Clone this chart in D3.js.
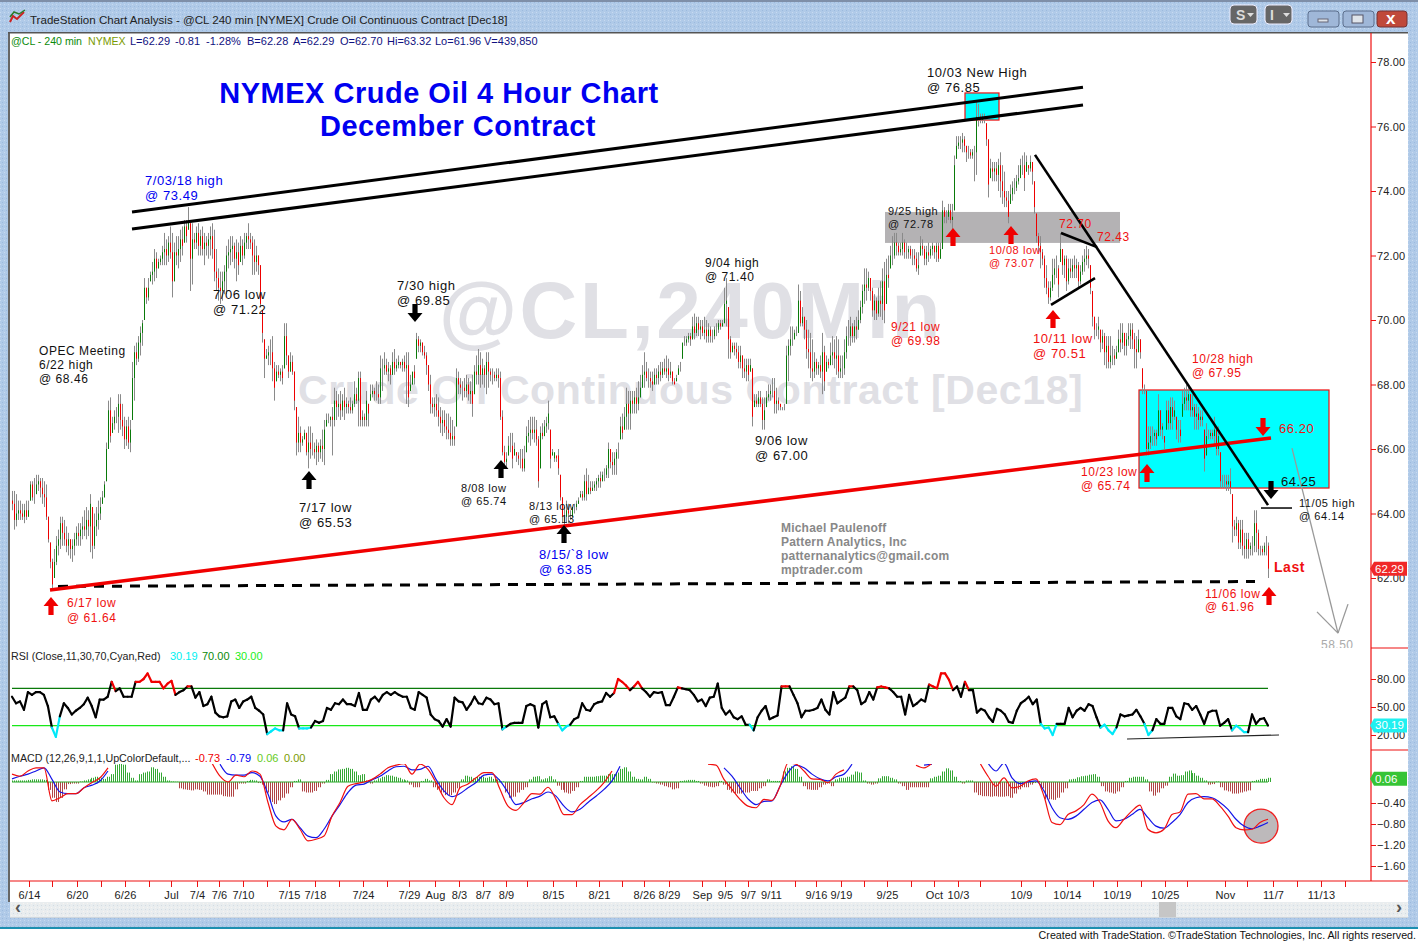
<!DOCTYPE html>
<html><head><meta charset="utf-8"><title>NYMEX Crude Oil 4 Hour Chart</title>
<script src="https://cdn.jsdelivr.net/npm/d3@7/dist/d3.min.js"></script>
<style>html,body{margin:0;padding:0;background:#fff;overflow:hidden}svg{display:block}text{font-family:"Liberation Sans",Arial,sans-serif}</style>
</head><body><svg id="c" width="1418" height="941"></svg>
<script>
const barHigh=[
64.7,64.7,64.6,64.4,64.4,64.3,64.3,64.4,64.4,65.0,
65.0,65.1,65.2,65.2,65.1,65.1,65.0,64.9,63.9,63.1,
62.6,62.9,63.3,63.5,63.9,63.9,63.8,63.6,63.4,63.2,
63.2,63.4,63.6,63.7,63.7,63.9,64.1,64.2,64.1,64.6,
64.2,64.0,64.2,64.4,64.5,64.7,65.0,66.2,67.5,67.6,
67.0,67.2,67.3,67.7,67.7,67.4,67.0,66.9,67.0,66.9,
68.7,69.2,69.3,69.5,69.8,70.0,71.3,71.0,71.3,71.5,
71.8,72.2,72.1,71.9,72.0,72.3,72.7,72.5,72.6,72.9,
72.7,72.4,72.6,72.6,72.8,72.9,73.1,73.1,73.5,73.0,
73.0,72.7,72.9,73.0,72.8,72.9,72.7,72.6,72.7,72.9,
73.0,72.8,72.2,71.6,71.5,71.5,71.7,72.3,72.5,72.6,
72.6,72.4,72.5,72.4,72.6,72.5,72.7,72.7,73.0,72.7,
72.6,72.5,72.3,72.0,71.7,70.3,69.4,69.1,69.2,69.4,
69.5,68.7,68.6,68.6,68.5,68.6,69.9,69.9,68.9,69.0,
68.9,68.4,67.3,67.0,66.7,66.4,66.6,66.5,66.7,66.7,
66.5,66.2,66.3,66.2,66.3,66.6,66.9,67.1,67.1,67.0,
67.3,67.9,67.8,67.7,67.8,67.7,67.9,67.6,67.5,67.6,
67.5,68.1,67.9,68.4,68.4,67.2,67.1,67.8,67.4,68.0,
68.0,67.9,68.1,68.0,68.9,68.8,69.0,68.8,68.7,68.6,
69.0,69.1,68.8,68.9,68.7,68.8,68.9,69.0,69.0,68.3,
68.1,68.6,69.6,69.5,69.4,69.3,69.2,69.0,68.6,68.3,
67.6,67.6,67.7,67.6,67.3,67.2,67.2,67.1,67.1,67.0,
66.9,66.7,68.5,68.4,68.2,68.1,68.2,68.3,68.2,68.1,
68.3,68.6,68.9,69.1,69.0,68.8,68.6,69.0,69.0,68.5,
68.5,68.4,68.5,68.5,68.4,67.2,66.1,65.9,66.4,66.5,
66.5,66.2,65.9,65.9,66.0,66.0,66.1,66.7,66.9,67.0,
67.0,67.0,66.9,66.4,66.7,66.8,66.9,67.0,67.5,66.6,
66.0,65.7,65.7,66.0,65.2,64.5,64.2,64.4,64.3,64.1,
63.9,64.3,64.4,64.5,64.7,64.7,65.2,65.4,65.2,65.0,
65.0,65.0,65.1,65.2,65.3,65.3,65.4,65.5,66.2,66.0,
65.9,65.9,66.0,66.2,67.0,67.1,67.3,67.9,67.8,67.8,
67.8,67.8,67.9,68.1,68.3,68.6,69.0,68.7,68.5,68.4,
68.4,68.5,68.5,68.6,68.7,68.7,68.8,68.9,68.8,68.7,
68.4,68.2,68.3,68.6,68.7,68.8,69.5,69.5,69.6,69.6,
70.1,70.2,70.1,70.1,70.0,70.0,70.1,70.0,69.9,69.8,
69.7,69.8,69.9,70.0,70.0,70.0,71.0,71.3,70.4,69.5,
69.3,69.3,69.3,69.2,69.2,68.9,68.8,68.8,68.8,68.8,
68.5,67.7,67.7,67.8,67.8,67.6,67.6,67.8,68.0,68.0,
68.2,68.2,67.9,67.6,67.4,67.3,67.4,69.2,69.4,69.8,
69.8,69.7,69.8,71.1,70.9,70.4,70.1,70.0,69.7,69.6,
69.4,69.0,68.8,68.7,68.9,69.6,69.2,68.9,68.8,69.3,
69.5,69.4,69.5,69.4,68.9,68.9,69.4,69.8,70.0,70.1,
69.9,70.0,70.1,70.3,70.6,71.1,71.6,71.6,71.5,71.3,
71.0,70.8,70.7,71.0,71.2,71.6,71.8,71.9,72.0,72.3,
72.6,72.7,72.7,72.4,72.4,72.7,72.5,72.4,72.3,72.3,
72.2,72.2,72.1,72.1,72.6,72.5,72.3,72.3,72.4,72.3,
72.4,72.3,72.4,72.4,72.4,73.7,73.5,73.4,73.6,73.6,
73.6,75.1,75.7,75.7,75.7,75.8,75.7,75.4,75.4,75.3,
75.3,75.4,76.8,76.7,76.4,76.4,76.4,76.1,75.6,75.0,
74.9,74.9,74.9,75.0,75.2,74.8,74.6,74.0,74.0,74.2,
74.3,74.4,74.5,74.8,75.0,75.1,75.2,75.1,74.8,75.1,
74.9,74.3,73.3,72.7,72.6,72.2,72.0,71.7,71.2,71.2,
71.9,71.9,72.0,71.7,72.7,72.2,72.0,72.0,71.9,71.9,
71.9,72.0,71.9,71.8,71.7,72.0,72.2,72.3,72.2,71.7,
70.9,70.1,69.9,70.1,69.7,69.7,69.6,69.5,69.5,69.5,
69.2,69.1,69.2,69.7,69.9,69.9,69.6,69.6,69.9,69.9,
69.9,69.6,69.5,69.7,69.4,68.5,68.0,67.8,66.7,66.7,
66.7,66.6,66.6,67.7,67.2,66.8,66.4,67.5,67.5,67.6,
67.6,67.5,67.0,66.9,66.9,67.8,67.9,68.0,68.0,67.7,
67.7,67.4,67.4,67.3,67.2,67.2,66.6,66.8,66.6,66.6,
66.6,67.0,66.7,66.7,65.9,65.2,65.2,65.2,65.2,65.4,
64.6,63.8,63.9,63.8,63.8,63.8,63.4,63.4,63.4,63.1,
63.3,64.1,64.1,63.5,63.0,63.0,63.1,63.3,63.1];
const barLow=[
64.1,63.5,63.6,63.8,63.8,63.8,63.7,63.8,63.9,64.4,
64.4,64.3,64.6,64.7,64.5,64.3,64.2,63.8,63.1,62.3,
61.6,62.0,62.4,62.7,62.9,63.0,63.0,62.8,62.7,62.6,
62.5,62.7,63.0,63.0,63.0,63.2,63.3,63.2,63.3,62.8,
62.6,62.9,63.3,63.5,63.8,64.3,64.5,65.0,66.0,66.2,
66.5,66.6,66.8,66.5,66.6,66.4,66.0,66.1,66.0,65.9,
66.9,67.5,68.6,68.7,68.9,69.2,70.0,70.5,70.6,71.2,
71.1,71.2,71.3,71.6,71.7,71.7,71.7,71.7,71.8,71.9,
70.7,71.2,71.7,71.6,71.8,72.0,72.4,72.4,72.8,70.9,
71.1,72.2,72.2,72.0,72.0,72.0,71.7,72.0,71.9,72.0,
71.9,71.2,70.9,70.6,70.5,70.6,70.8,70.8,71.6,71.7,
71.8,71.6,71.2,71.4,71.8,71.7,71.9,72.2,72.2,72.2,
71.4,71.4,71.5,71.4,70.4,69.3,68.2,68.8,68.6,68.6,
68.1,67.5,68.1,68.2,68.1,68.0,68.5,68.6,68.2,68.4,
68.3,67.2,65.8,65.9,65.9,66.1,66.3,65.8,65.4,65.7,
65.8,65.7,65.5,65.6,65.7,65.6,65.5,66.7,66.8,66.7,
65.8,66.7,66.9,67.0,66.9,67.0,66.9,67.1,67.1,67.1,
67.1,67.3,67.4,66.7,66.7,66.7,66.7,66.7,66.7,67.5,
67.6,67.5,67.5,67.4,67.4,67.8,68.3,68.3,68.1,68.0,
68.3,68.3,68.4,68.5,68.5,68.4,68.4,67.4,67.3,67.8,
68.0,68.0,68.8,69.0,69.0,68.9,68.8,68.3,67.8,67.1,
67.1,67.0,67.0,66.7,66.5,66.4,66.5,66.3,66.3,66.1,
66.1,66.1,66.7,67.7,67.7,67.5,67.6,67.6,67.5,67.4,
67.0,67.7,68.0,68.0,67.9,68.0,67.9,67.7,67.9,68.1,
68.0,68.1,68.1,67.9,66.9,65.8,65.4,65.4,65.8,65.9,
65.4,65.8,65.6,65.5,65.4,65.3,65.3,65.9,66.2,66.1,
66.3,66.2,66.1,64.8,65.4,66.3,66.4,66.5,66.6,65.4,
65.8,65.6,65.6,65.2,64.4,63.7,63.6,63.7,63.7,63.8,
63.9,64.0,64.1,64.3,64.5,64.4,64.4,64.4,64.6,64.6,
64.7,64.7,64.7,64.8,64.8,65.0,65.0,65.1,65.1,65.4,
65.2,65.2,65.2,65.7,66.3,66.3,66.6,66.6,66.6,66.6,
67.1,67.1,67.1,67.2,67.6,67.9,67.9,68.1,67.9,67.9,
67.8,68.0,68.0,68.0,68.1,68.2,68.3,68.2,68.1,68.2,
68.0,68.1,68.1,68.3,68.4,69.1,69.2,69.2,69.3,69.2,
69.4,69.4,69.5,69.5,69.4,69.5,69.4,69.3,69.3,69.3,
69.3,69.4,69.5,69.6,69.7,69.8,69.9,69.8,68.8,68.8,
69.0,68.9,68.8,68.5,68.5,68.2,68.2,68.1,68.1,68.4,
66.7,67.3,67.3,67.3,67.3,66.6,66.6,67.3,67.5,67.5,
67.6,67.1,67.1,67.2,67.2,67.2,67.2,67.4,68.1,68.9,
69.2,69.4,69.5,69.6,69.8,69.8,69.4,68.8,68.5,68.2,
68.1,68.2,68.3,68.3,68.2,67.7,67.8,68.4,68.5,68.6,
68.6,68.5,68.3,68.2,68.2,68.2,68.3,68.8,69.2,69.2,
69.3,69.3,69.4,69.7,69.9,70.2,70.5,70.6,70.9,70.6,
70.1,70.0,70.0,70.1,70.1,70.0,69.9,70.5,71.0,71.6,
71.7,71.9,72.0,72.0,72.0,72.0,71.9,71.9,71.9,71.9,
71.7,71.7,71.5,71.4,72.0,72.0,71.7,71.7,71.8,71.9,
72.0,71.9,71.8,71.8,71.9,72.2,73.0,73.0,73.1,73.0,
72.7,73.4,75.0,75.3,75.3,75.2,75.2,74.9,75.0,75.0,
75.0,74.3,74.5,76.0,76.1,76.1,76.1,75.4,73.8,74.4,
74.3,74.3,74.3,74.0,73.8,73.6,73.5,73.5,73.0,73.6,
73.7,73.9,74.0,74.2,74.4,74.5,74.0,74.6,74.5,74.6,
74.2,73.3,72.4,72.1,71.6,71.7,71.0,70.8,70.5,70.6,
70.9,71.1,71.3,70.7,71.8,71.4,71.3,70.9,71.1,71.3,
71.3,71.3,71.3,71.0,71.1,71.4,71.5,71.7,71.6,70.8,
69.8,69.4,69.5,69.4,69.0,69.1,68.6,68.5,68.5,68.5,
68.6,68.6,68.8,69.0,69.0,69.1,68.9,68.9,69.2,69.1,
69.1,68.5,68.5,69.0,68.8,67.7,67.7,65.8,65.8,66.0,
66.1,66.1,66.1,66.4,66.4,66.3,66.0,66.6,66.6,66.6,
66.6,66.9,66.3,66.2,66.2,67.0,67.2,67.2,67.2,67.0,
67.0,66.6,66.6,66.6,66.7,66.7,65.3,65.8,66.3,66.3,
66.3,66.1,65.8,65.8,64.8,64.8,64.8,64.7,64.7,64.6,
63.1,63.3,63.3,62.9,62.9,62.7,62.6,62.6,62.6,62.7,
62.7,62.8,62.8,62.7,62.7,62.7,62.7,62.7,62.0];
const barClose=[
64.3,63.8,64.0,64.1,64.0,63.9,64.1,63.9,64.1,64.9,
64.5,64.5,64.9,65.0,64.8,64.6,64.5,63.9,63.2,62.5,
61.8,62.5,63.0,63.2,63.7,63.4,63.2,63.0,63.2,62.9,
63.0,63.2,63.4,63.3,63.5,63.6,63.5,63.8,63.6,64.3,
63.0,63.6,63.8,64.0,64.2,64.5,64.9,66.0,67.2,66.4,
66.8,67.0,67.0,67.4,66.9,66.7,66.3,66.7,66.2,66.6,
68.2,69.0,68.8,69.3,69.6,69.9,71.0,70.7,71.0,71.4,
71.5,71.9,71.6,71.8,71.9,72.1,72.2,72.0,72.4,72.1,
71.2,72.1,72.0,72.2,72.5,72.3,72.9,72.6,73.1,71.9,
72.5,72.4,72.7,72.3,72.6,72.2,72.4,72.3,72.5,72.6,
72.2,71.5,71.3,71.0,70.9,71.2,71.5,72.0,72.1,72.2,
72.3,71.9,72.1,71.7,72.3,72.0,72.4,72.6,72.5,72.4,
72.0,71.8,72.0,71.7,70.5,69.6,68.8,68.9,69.0,69.0,
68.5,67.9,68.4,68.3,68.4,68.2,69.5,68.9,68.4,68.7,
68.4,67.5,66.2,66.5,66.2,66.3,66.5,65.9,66.2,66.0,
66.0,65.9,66.1,65.9,66.1,66.0,66.6,66.9,66.9,67.0,
66.9,67.5,67.3,67.4,67.2,67.5,67.3,67.4,67.3,67.2,
67.4,67.7,67.5,68.2,66.9,67.0,66.9,67.5,67.1,67.7,
67.8,67.7,67.7,67.6,68.5,68.5,68.6,68.4,68.5,68.3,
68.7,68.5,68.6,68.7,68.6,68.7,68.5,68.6,67.6,68.0,
68.4,68.2,69.4,69.2,69.3,69.0,68.9,68.6,68.0,67.4,
67.3,67.4,67.2,67.0,66.8,66.9,66.7,66.6,66.5,66.3,
66.4,66.3,68.2,68.0,67.9,67.9,67.8,68.0,67.7,67.8,
67.4,68.4,68.3,68.6,68.3,68.5,68.3,68.7,68.4,68.3,
68.3,68.2,68.3,68.2,67.0,65.9,65.6,65.7,66.1,66.1,
65.7,66.0,65.8,65.7,65.7,65.4,65.7,66.4,66.5,66.6,
66.5,66.6,66.3,65.0,66.5,66.4,66.7,66.8,67.1,65.7,
65.9,65.9,65.8,65.4,64.5,63.9,63.9,64.1,64.0,64.0,
64.2,64.2,64.3,64.4,64.6,64.5,65.0,64.6,64.8,64.7,
64.8,64.9,65.0,65.1,65.0,65.2,65.2,65.4,66.0,65.6,
65.5,65.7,65.9,65.9,66.7,66.5,67.0,67.4,67.1,67.5,
67.4,67.6,67.4,67.6,67.9,68.3,68.4,68.2,68.2,68.1,
68.0,68.3,68.2,68.4,68.3,68.5,68.4,68.5,68.3,68.4,
68.1,68.0,68.2,68.5,68.5,69.3,69.3,69.4,69.5,69.4,
69.8,69.6,69.9,69.7,69.8,69.6,69.7,69.5,69.7,69.5,
69.5,69.7,69.7,69.9,69.8,69.9,70.5,70.6,69.4,69.0,
69.2,69.1,69.0,68.7,68.9,68.5,68.4,68.6,68.3,68.6,
67.0,67.5,67.4,67.6,67.4,66.9,67.2,67.6,67.7,67.8,
67.8,67.4,67.5,67.4,67.3,67.3,67.3,68.9,69.2,69.4,
69.4,69.6,69.6,70.6,69.9,70.1,69.7,69.1,69.0,68.5,
68.4,68.7,68.5,68.6,68.4,69.0,68.1,68.7,68.6,68.9,
69.0,68.8,68.9,68.4,68.5,68.5,69.0,69.5,69.5,69.8,
69.5,69.8,69.7,70.0,70.4,70.9,71.1,71.0,71.3,70.9,
70.3,70.6,70.2,70.6,70.5,71.2,70.3,71.4,71.3,72.0,
72.0,72.4,72.3,72.1,72.2,72.4,72.1,72.1,72.2,72.0,
72.0,71.9,71.6,71.7,72.3,72.2,71.9,72.1,72.0,72.2,
72.3,72.1,72.3,71.9,72.2,73.4,73.2,73.2,73.4,73.1,
73.2,74.8,75.4,75.5,75.5,75.6,75.4,75.2,75.2,75.1,
75.2,75.2,76.3,76.3,76.2,76.3,76.3,75.6,74.2,74.7,
74.6,74.7,74.5,74.8,74.3,74.0,73.8,73.7,73.2,73.9,
74.1,74.1,74.3,74.4,74.8,74.8,74.4,74.9,74.7,74.9,
74.6,73.5,72.6,72.3,72.1,71.9,71.3,71.0,70.7,71.0,
71.4,71.6,71.6,71.1,72.2,71.7,71.9,71.2,71.6,71.5,
71.7,71.6,71.7,71.2,71.5,71.8,71.9,72.0,71.9,71.0,
70.1,69.7,69.7,69.8,69.3,69.5,69.0,69.2,68.7,68.9,
68.9,68.8,69.0,69.4,69.3,69.6,69.2,69.4,69.5,69.7,
69.4,69.1,69.0,69.4,69.0,67.9,67.9,66.0,66.2,66.4,
66.4,66.5,66.3,67.2,66.6,66.7,66.2,67.2,66.8,67.3,
67.0,67.2,66.6,66.6,66.4,67.4,67.6,67.5,67.7,67.2,
67.3,67.0,67.1,66.9,67.0,66.9,65.7,66.4,66.4,66.5,
66.4,66.6,66.0,66.4,65.0,65.0,65.0,64.9,65.0,64.8,
63.6,63.5,63.7,63.1,63.5,63.0,62.9,63.2,62.9,63.0,
63.0,63.7,63.4,62.9,62.9,62.8,63.0,63.0,62.29];
const rsiValues=[
61,54,56,47,66,63,66,66,63,51,28,18,40,54,49,42,46,49,53,60,51,39,58,58,61,77,67,70,61,61,61,77,77,80,86,77,77,77,70,75,78,63,66,68,72,72,60,66,51,53,61,44,40,39,40,56,58,49,56,58,61,49,46,42,21,24,27,25,25,54,42,40,27,27,27,28,35,33,35,49,47,54,53,58,53,53,51,65,47,47,58,61,56,63,66,63,66,63,61,61,49,47,66,63,60,42,37,35,29,37,29,60,56,55,47,53,61,54,53,
60,58,53,54,26,29,32,33,33,33,51,53,51,28,53,56,39,40,32,25,29,31,37,39,54,47,46,53,55,56,65,61,65,80,77,73,68,72,77,70,66,61,66,65,66,52,52,61,71,70,69,68,63,56,58,51,60,61,75,49,42,46,39,37,40,31,31,25,39,46,51,37,39,41,72,72,72,63,54,39,46,46,47,49,58,47,42,66,54,57,60,72,72,68,53,56,66,58,71,72,71,70,66,61,61,42,63,51,54,58,56,74,72,70,86,86,79,68,72,61,77,68,68,44,48,46,39,34,48,
46,42,34,33,46,54,57,61,53,58,32,27,28,20,32,32,32,49,39,46,49,46,53,51,39,28,31,25,21,28,42,40,41,42,47,40,32,20,25,37,32,32,49,49,40,37,54,53,47,51,42,32,44,46,46,30,33,37,25,30,27,23,23,42,32,37,38,30.19];
const macdLine=[
.15,.11,.21,.27,.27,-.36,-.3,-.22,-.22,-.11,-.01,.08,.27,null,null,null,null,null,null,null,null,null,null,null,null,.36,.11,0,.13,.1,.21,.15,-.39,-.84,-.91,-.71,-.9,-1.12,-1.09,-1.03,-.65,-.39,-.08,-.03,0,.05,.15,.27,.32,.35,.15,.34,.24,-.01,-.3,-.43,-.11,-.04,.08,
.18,.18,-.14,-.46,-.54,-.39,-.22,-.23,-.1,-.33,-.62,-.62,-.43,-.3,-.17,-.01,.21,null,null,null,null,null,null,null,null,null,null,null,.34,.32,.05,-.14,-.33,-.46,-.49,-.33,-.35,-.08,.36,.34,.21,.06,.05,-.01,.15,.23,null,null,null,null,null,null,null,null,.32,.27,.36,null,null,null,null,null,.36,.11,-.08,
.08,-.11,-.08,.02,.06,-.27,-.77,-.81,-.62,-.55,-.43,-.23,-.39,-.74,-.87,-.71,-.55,-.44,-.9,-.97,-.9,-.62,-.57,-.23,-.22,-.32,-.32,-.46,-.65,-.87,-.91,-.9,-.77,-.71];
const macdAvg=[
.06,.11,.15,.21,.27,.05,-.19,-.22,-.22,-.11,-.06,.02,.21,null,null,null,null,null,null,null,null,null,null,null,null,null,.34,.15,.13,.13,.18,.11,-.23,-.65,-.76,-.71,-.87,-1.03,-1.06,-.9,-.65,-.43,-.2,-.06,-.04,.04,.11,.21,.29,.3,.23,.24,.3,.05,-.17,-.28,-.22,-.11,-.01,
.13,.15,.02,-.2,-.43,-.39,-.32,-.27,-.19,-.27,-.46,-.57,-.52,-.39,-.27,-.14,.02,.3,null,null,null,null,null,null,null,null,null,null,null,null,.27,.11,-.11,-.32,-.43,-.37,-.36,-.08,.18,.32,.27,.15,.06,.02,.1,.15,.34,null,null,null,null,null,null,null,null,.32,.34,null,null,null,null,null,null,.36,.21,
.36,.08,-.03,0,.02,-.17,-.49,-.68,-.71,-.65,-.52,-.39,-.34,-.52,-.74,-.71,-.62,-.52,-.68,-.84,-.88,-.77,-.62,-.39,-.3,-.28,-.3,-.39,-.52,-.71,-.84,-.89,-.84,-.77];
const macdDiff=[
.03,.03,.03,.03,.04,.05,.05,.05,.04,-.15,-.3,-.38,-.3,-.14,-.04,-.03,-.03,.01,.03,.05,.08,.1,.08,.06,.1,.15,.33,.35,.33,.18,.08,.03,.15,.18,.2,.28,.25,.18,.1,.03,.01,.005,-.12,-.14,-.15,-.16,-.14,-.15,-.18,-.24,-.24,-.24,-.24,-.27,-.28,-.28,-.14,-.03,-.03,.02,.04,.03,-.02,-.05,-.2,-.38,-.42,-.35,-.3,-.22,-.1,.02,.05,-.18,-.2,-.2,-.17,-.1,-.03,.04,.15,.2,.24,.25,.27,.25,.2,.13,.15,.03,-.03,.03,.07,.1,.13,.12,.1,.08,.05,.03,-.05,-.1,-.1,.02,.06,.03,-.1,-.15,-.2,-.25,-.25,-.2,-.12,.05,.12,.1,.07,.1,.1,.08,
.1,.06,.05,.01,-.2,-.3,-.28,-.2,-.15,-.1,.05,.1,.11,.05,.07,.11,.05,-.07,-.15,-.2,-.22,-.17,-.1,.02,.1,.1,.1,.11,.12,.12,.15,.15,.18,.25,.28,.2,.1,.06,.05,.1,.06,-.01,-.03,-.05,-.08,-.1,-.14,-.12,.02,.03,.04,.04,.02,-.03,-.07,-.09,-.1,-.08,.02,-.05,-.15,-.2,-.22,-.22,-.2,-.2,-.17,-.17,-.12,-.08,.05,.02,.02,.02,.2,.27,.3,.25,.1,-.08,-.14,-.15,-.15,-.1,-.05,-.03,-.08,.05,.08,.08,.1,.14,.2,.18,.03,-.03,-.05,-.03,.07,.11,.11,.08,.05,-.03,-.08,-.15,-.1,-.1,-.1,-.1,-.1,.07,.1,.12,.2,.26,.22,.1,.02,-.03,.03,.03,-.2,-.25,-.27,-.27,-.28,-.27,-.28,
-.28,-.27,-.3,-.22,-.14,-.1,-.1,-.05,-.02,.02,-.12,-.33,-.33,-.34,-.3,-.2,-.12,.05,.06,.09,.11,.12,.14,.15,.1,-.08,-.18,-.2,-.22,-.18,-.1,.02,.08,.1,.1,.1,.05,-.18,-.26,-.2,-.12,-.07,.1,.16,.12,.13,.2,.22,.17,.12,.08,.03,-.05,-.04,.01,-.1,-.16,-.18,-.22,-.22,-.2,-.18,-.16,.02,.04,.06,.06,.08];
const priceTicks=[62,64,66,68,70,72,74,76,78];
const rsiTicks=[20,50,80];
const macdTicks=[-1.6,-1.2,-.8,-.4];
const dateTickBars=[8.5,20,32.5,44.5,56.5,68.5,79.5,92.5,103.5,115.5,127.5,138.5,151.5,163.5,175.5,187.5,198.5,211.5,223.5,235.5,247,257.5,270.5,282,293.5,305,316,328.5,345,356.5,368,379.5,391.5,402,414.5,426,437.5,449.5,461,473,484,504.5,516.5,527.5,540.5,552.5,564.5,576.5,587.5,606.5,617.5,630.5,642.5,654.5,666.5];
const dateTickLabels=["6/14","","6/20","","6/26","","Jul","7/4","7/6","7/10","","7/15","7/18","","7/24","","7/29","Aug","8/3","8/7","8/9","","8/15","","8/21","","8/26","8/29","Sep","9/5","9/7","9/11","","9/16","9/19","","9/25","","Oct","10/3","","10/9","","10/14","","10/19","","10/25","","Nov","","11/7","","11/13",""];

const svg=d3.select("#c");
const x=d3.scaleLinear().domain([0,628]).range([12,1268]);
const y=d3.scaleLinear().domain([62,78]).range([578,62]);
const yR=d3.scaleLinear().domain([20,80]).range([735,679]);
const yM=d3.scaleLinear().domain([-1.6,0]).range([866,782]);
const BLUE="#0000f0",RED="#f01010",BLK="#111",GRY="#888";

// window chrome
const rect=(a,b,w,h,f,extra={})=>{const r=svg.append("rect").attr("x",a).attr("y",b).attr("width",w).attr("height",h).attr("fill",f);for(const k in extra)r.attr(k,extra[k]);return r;};
const txt=(a,b,s,f,size,extra={})=>{const t=svg.append("text").attr("x",a).attr("y",b).attr("fill",f).attr("font-size",size).text(s);for(const k in extra)t.attr(k,extra[k]);return t;};
const defs=svg.append("defs");
defs.append("clipPath").attr("id","macdClip").append("rect").attr("x",10).attr("y",764).attr("width",1361).attr("height",117);
defs.append("clipPath").attr("id","priceClip").append("rect").attr("x",10).attr("y",33).attr("width",1361).attr("height",615);
const tex=defs.append("pattern").attr("id","tex").attr("width",4).attr("height",4).attr("patternUnits","userSpaceOnUse");
tex.append("rect").attr("width",4).attr("height",4).attr("fill","#b0cae8");
tex.append("rect").attr("x",0).attr("y",0).attr("width",1).attr("height",1).attr("fill","#c8daf0");
tex.append("rect").attr("x",2).attr("y",2).attr("width",1).attr("height",1).attr("fill","#9cbade");
const tex2=defs.append("pattern").attr("id","tex2").attr("width",4).attr("height",4).attr("patternUnits","userSpaceOnUse");
tex2.append("rect").attr("width",4).attr("height",4).attr("fill","#e9edef");
tex2.append("rect").attr("x",1).attr("y",1).attr("width",1).attr("height",1).attr("fill","#d2dbe2");
tex2.append("rect").attr("x",3).attr("y",3).attr("width",1).attr("height",1).attr("fill","#f8f4f0");

rect(0,0,1418,928,"url(#tex)");
rect(0,0,1418,2,"#7f8fa8");
rect(0,927,1418,2,"#1c8fb0");
rect(0,929,1418,12,"#fff");
rect(9,32,1399,849,"#fff");
rect(8,32,2,870,"#666");
rect(8,32,1400,1.5,"#555");
rect(10,881,1398,21,"#fff");
rect(10,902,1398,16,"url(#tex2)");
rect(10,917,1398,1,"#cfd6dc");
rect(1159,902,17,15,"#c6c6c6");
txt(15,913,"‹",  "#555",18,{"font-weight":"bold"});
txt(1396,913,"›","#555",18,{"font-weight":"bold"});
// title icon
svg.append("path").attr("d","M10 22 L13 16 L17 19 L24 12").attr("fill","none").attr("stroke","#c22").attr("stroke-width",2);
svg.append("path").attr("d","M10 17 L14 12 L19 14 L25 10").attr("fill","none").attr("stroke","#2a7a2a").attr("stroke-width",1.5);
txt(30,24,"TradeStation Chart Analysis - @CL 240 min [NYMEX] Crude Oil Continuous Contract [Dec18]","#222",11.55);
// window buttons
rect(1230,5,27,19,"#666",{stroke:"#eef",rx:4,"stroke-width":1});
txt(1236,20,"S","#ddd",14,{"font-weight":"bold"});
svg.append("path").attr("d","M1247 13h7l-3.5 4z").attr("fill","#ddd");
rect(1265,5,27,19,"#666",{stroke:"#eef",rx:4,"stroke-width":1});
txt(1270,20,"I","#ddd",14,{"font-weight":"bold"});
svg.append("path").attr("d","M1283 13h7l-3.5 4z").attr("fill","#ddd");
rect(1308,11,31,16,"#9fb7d8",{stroke:"#5c6f8c",rx:3});
rect(1318,19,10,3,"#dfe4ea",{stroke:"#667"});
rect(1343,11,31,16,"#9fb7d8",{stroke:"#5c6f8c",rx:3});
rect(1352,15,11,8,"#dfe4ea",{stroke:"#556"});
rect(1377,11,30,16,"#c0493a",{stroke:"#733",rx:3});
txt(1386,24,"x","#fff",17,{"font-weight":"bold"});

// watermarks
txt(439,338,"@CL,240Min","#e0e0e5",80,{"font-weight":"bold","letter-spacing":"2.6"});
txt(298,404,"Crude Oil Continuous Contract [Dec18]","#e0e0e5",41,{"font-weight":"bold","letter-spacing":"0.6"});

// zones beneath the bars
const box=(b0,b1,p0,p1,f,s)=>{const r=svg.append("rect").attr("x",x(b0)).attr("y",y(p0)).attr("width",x(b1)-x(b0)).attr("height",y(p1)-y(p0)).attr("fill",f);if(s)r.attr("stroke",s).attr("stroke-width",1.2);return r;};
box(476.5,493.5,77.04,76.2,"#00ffff",RED);
box(563.5,658.5,67.83,64.79,"#00ffff",RED);
box(436.5,554,73.35,72.39,"#b4b2b4");

// price bars
const n=barHigh.length;
const gBars=svg.append("g");
const idx=d3.range(n);
gBars.selectAll("line.w").data(idx).join("line").attr("class","w")
 .attr("x1",i=>Math.round(x(i))+.5).attr("x2",i=>Math.round(x(i))+.5)
 .attr("y1",i=>y(barHigh[i])).attr("y2",i=>y(barLow[i])).attr("stroke","#8a8a8a").attr("stroke-width",1);
gBars.selectAll("line.b").data(idx).join("line").attr("class","b")
 .attr("x1",i=>Math.round(x(i))+.5).attr("x2",i=>Math.round(x(i))+.5)
 .attr("y1",i=>y(i?Math.min(barHigh[i],Math.max(barLow[i],barClose[i-1])):barClose[i]+.1)).attr("y2",i=>y(barClose[i]))
 .attr("stroke",i=>(i&&barClose[i]>=barClose[i-1])?"#0a7a0a":"#ee0000").attr("stroke-width",1);

// trend lines
const trend=(a,b,c,d,col,w,dash)=>{const l=svg.append("line").attr("x1",x(a)).attr("y1",y(b)).attr("x2",x(c)).attr("y2",y(d)).attr("stroke",col).attr("stroke-width",w);if(dash)l.attr("stroke-dasharray",dash);return l;};
trend(60,73.35,535.5,77.22,"#000",3);
trend(60,72.82,535.5,76.67,"#000",3);
trend(23,61.74,621.5,61.89,"#000",3,"10 8");
trend(19,61.63,629.5,66.34,"#f00000",3.6);
trend(511.5,75.12,628,64.26,"#000",2.6);
trend(524.5,72.70,542.5,72.26,"#000",2.6);
trend(519.5,70.47,541.5,71.30,"#000",2.6);
trend(624.5,64.17,640,64.17,"#000",1.5);
trend(640,66.03,663,60.29,"#999",1.3);
trend(652.5,60.95,663,60.29,"#999",1.3);
trend(668,61.19,663,60.29,"#999",1.3);

// arrows
const arrow=(cx,tip,dir,col)=>{const L=18,hw=7.5,sw=2.6,hl=9;const p=[[0,0],[hw,hl],[sw,hl],[sw,L],[-sw,L],[-sw,hl],[-hw,hl]].map(([a,b])=>[cx+a,tip+dir*b]);
 svg.append("polygon").attr("points",p.join(" ")).attr("fill",col);};
arrow(51,597,1,"#f00000");arrow(953,228,1,"#f00000");arrow(1011,226,1,"#f00000");arrow(1053,310,1,"#f00000");arrow(1147,464,1,"#f00000");arrow(1269,587,1,"#f00000");
arrow(1263,436,-1,"#f00000");
arrow(309,471,1,"#000");arrow(501,460,1,"#000");arrow(564,525,1,"#000");
arrow(415,322,-1,"#000");arrow(1271,499,-1,"#000");

// header + annotations
txt(11,45,"@CL - 240 min","#0a8a0a",10.6);
txt(88,45,"NYMEX","#7a9a00",10.6);
[["L=62.29",130],["-0.81",175],["-1.28%",206],["B=62.28",247],["A=62.29",293],["O=62.70",340],["Hi=63.32",387],["Lo=61.96",435],["V=439,850",484]].forEach(d=>txt(d[1],45,d[0],"#101080",11));
txt(439,103,"NYMEX Crude Oil 4 Hour Chart","#0000f0",29,{"font-weight":"bold","text-anchor":"middle","letter-spacing":"0.5"});
txt(458,136,"December Contract","#0000f0",29,{"font-weight":"bold","text-anchor":"middle","letter-spacing":"0.5"});
const note=(a,b,s,f,size=13,extra={})=>txt(a,b,s,f,size,Object.assign({"letter-spacing":"0.55"},extra));
note(145,185,"7/03/18 high",BLUE);note(145,200,"@ 73.49",BLUE);
note(213,299,"7/06 low",BLK);note(213,314,"@ 71.22",BLK);
note(39,355,"OPEC Meeting",BLK,12);note(39,369,"6/22 high",BLK,12);note(39,383,"@ 68.46",BLK,12);
note(397,290,"7/30 high",BLK);note(397,305,"@ 69.85",BLK);
note(299,512,"7/17 low",BLK);note(299,527,"@ 65.53",BLK);
note(461,492,"8/08 low",BLK,11);note(461,505,"@ 65.74",BLK,11);
note(529,510,"8/13 low",BLK,11);note(529,523,"@ 65.13",BLK,11);
note(539,559,"8/15/`8 low",BLUE);note(539,574,"@ 63.85",BLUE);
note(705,267,"9/04 high",BLK,12);note(705,281,"@ 71.40",BLK,12);
note(755,445,"9/06 low",BLK);note(755,460,"@ 67.00",BLK);
note(927,77,"10/03 New High",BLK);note(927,92,"@ 76.85",BLK);
note(888,215,"9/25 high",BLK,11);note(888,228,"@ 72.78",BLK,11);
note(891,331,"9/21 low",RED,12);note(891,345,"@ 69.98",RED,12);
note(989,254,"10/08 low",RED,11);note(989,267,"@ 73.07",RED,11);
note(1059,228,"72.70",RED,12);note(1097,241,"72.43",RED,12);
note(1033,343,"10/11 low",RED);note(1033,358,"@ 70.51",RED);
note(1192,363,"10/28 high",RED,12);note(1192,377,"@ 67.95",RED,12);
note(1081,476,"10/23 low",RED,12);note(1081,490,"@ 65.74",RED,12);
note(1279,433,"66.20",RED,13);note(1281,486,"64.25",BLK,13);
note(1299,507,"11/05 high",BLK,11);note(1299,520,"@ 64.14",BLK,11);
note(1274,572,"Last",RED,14,{"font-weight":"bold"});
note(1205,598,"11/06 low",RED,12);note(1205,611,"@ 61.96",RED,12);
note(67,607,"6/17 low",RED,12);note(67,622,"@ 61.64",RED,12);
["Michael Paulenoff","Pattern Analytics, Inc","patternanalytics@gmail.com","mptrader.com"].forEach((s,i)=>txt(781,532+14*i,s,GRY,12,{"font-weight":"bold","letter-spacing":"0.2"}));
svg.append("g").attr("clip-path","url(#priceClip)").append("text").attr("x",1321).attr("y",649).attr("fill","#aaa").attr("font-size",12).attr("letter-spacing",".5").text("58.50");

// RSI
txt(11,660,"RSI (Close,11,30,70,Cyan,Red)","#222",10.7);
txt(170,660,"30.19","#00f0f0",11);txt(202,660,"70.00","#0a8a0a",11);txt(235,660,"30.00","#22ee22",11);
const xRsi=i=>x(i*628/(rsiValues.length-1));
svg.append("line").attr("x1",x(0)).attr("x2",x(628)).attr("y1",yR(70)).attr("y2",yR(70)).attr("stroke","#0a7a0a").attr("stroke-width",1.4);
svg.append("line").attr("x1",x(0)).attr("x2",x(628)).attr("y1",yR(30)).attr("y2",yR(30)).attr("stroke","#18e818").attr("stroke-width",1.4);
svg.append("g").selectAll("line").data(d3.range(rsiValues.length-1)).join("line")
 .attr("x1",xRsi).attr("x2",i=>xRsi(i+1)).attr("y1",i=>yR(rsiValues[i])).attr("y2",i=>yR(rsiValues[i+1]))
 .attr("stroke-width",2.2).attr("stroke-linecap","round")
 .attr("stroke",i=>{const m=(rsiValues[i]+rsiValues[i+1])/2;return m<30.5?"#00e8f8":m>70?"#f00000":"#000";});
svg.append("line").attr("x1",x(557.5)).attr("y1",yR(15.7)).attr("x2",x(633.5)).attr("y2",yR(20)).attr("stroke","#222").attr("stroke-width",1.2);

// MACD
txt(11,762,"MACD (12,26,9,1,1,UpColorDefault,...","#222",10.7);
txt(195,762,"-0.73","#f00000",11);txt(226,762,"-0.79","#0000f0",11);txt(257,762,"0.06","#66cc22",11);txt(284,762,"0.00","#7a9a00",11);
svg.append("circle").attr("cx",x(624.5)).attr("cy",yM(-.84)).attr("r",17).attr("fill","#bdb9bb").attr("stroke","#f02020").attr("stroke-width",1.3);
const xHist=i=>Math.round(x(i*628/(macdDiff.length-1)));
const gH=svg.append("g").attr("clip-path","url(#macdClip)");
[0,2].forEach(off=>gH.append("g").selectAll("line").data(d3.range(macdDiff.length)).join("line")
 .attr("x1",i=>xHist(i)+off+.5).attr("x2",i=>xHist(i)+off+.5).attr("y1",yM(0)).attr("y2",i=>yM(macdDiff[i]))
 .attr("stroke",i=>macdDiff[i]>=0?"#35a835":"#b04545").attr("stroke-width",1));
svg.append("line").attr("x1",x(0)).attr("x2",x(628)).attr("y1",yM(0)).attr("y2",yM(0)).attr("stroke","#2aa82a").attr("stroke-width",1.2);
const xMacd=i=>x(i*628/(macdLine.length-1));
const macdPath=d3.line().defined(v=>v!==null).x((v,i)=>xMacd(i)).y(v=>yM(v)).curve(d3.curveMonotoneX);
const gM=svg.append("g").attr("clip-path","url(#macdClip)");
gM.append("path").attr("d",macdPath(macdAvg)).attr("fill","none").attr("stroke","#1414e8").attr("stroke-width",1.2);
gM.append("path").attr("d",macdPath(macdLine)).attr("fill","none").attr("stroke","#f01010").attr("stroke-width",1.2);

// axes
const style=g=>{g.selectAll("path.domain").remove();g.selectAll("line").attr("stroke","#ee1010");g.selectAll("text").attr("fill","#222").attr("font-size",11).attr("font-family",'"Liberation Sans",Arial,sans-serif').attr("letter-spacing",".15");};
svg.append("g").attr("transform","translate(1371,0)").call(d3.axisRight(y).tickValues(priceTicks).tickSize(5).tickPadding(1).tickFormat(d3.format(".2f"))).call(style);
svg.append("g").attr("transform","translate(1371,0)").call(d3.axisRight(yR).tickValues(rsiTicks).tickSize(5).tickPadding(1).tickFormat(d3.format(".2f"))).call(style);
svg.append("g").attr("transform","translate(1371,0)").call(d3.axisRight(yM).tickValues(macdTicks).tickSize(5).tickPadding(1).tickFormat(d3.format(".2f"))).call(style);
svg.append("g").attr("transform","translate(0,881)").call(d3.axisBottom(x).tickValues(dateTickBars).tickSize(6).tickPadding(4).tickFormat((d,i)=>dateTickLabels[i])).call(style);
[[1371,1371,33,881],[10,1408,881,881],[1371,1408,648,648],[1371,1408,750,750]].forEach(d=>svg.append("line").attr("x1",d[0]).attr("x2",d[1]).attr("y1",d[2]).attr("y2",d[3]).attr("stroke","#ee1010").attr("stroke-width",1.2));

// last-value flags
const flag=(v,sc,s,col)=>{const c=sc(v);svg.append("polygon").attr("points",`1370,${c} 1374,${c-7} 1407,${c-7} 1407,${c+7} 1374,${c+7}`).attr("fill",col);
 txt(1375,c+4,s,"#fff",11.5);};
flag(62.29,y,"62.29","#f02828");flag(30.19,yR,"30.19","#20f0f0");flag(.06,yM,"0.06","#35c435");

txt(1416,939,"Created with TradeStation. ©TradeStation Technologies, Inc. All rights reserved.","#111",10.7,{"text-anchor":"end"});
</script></body></html>
